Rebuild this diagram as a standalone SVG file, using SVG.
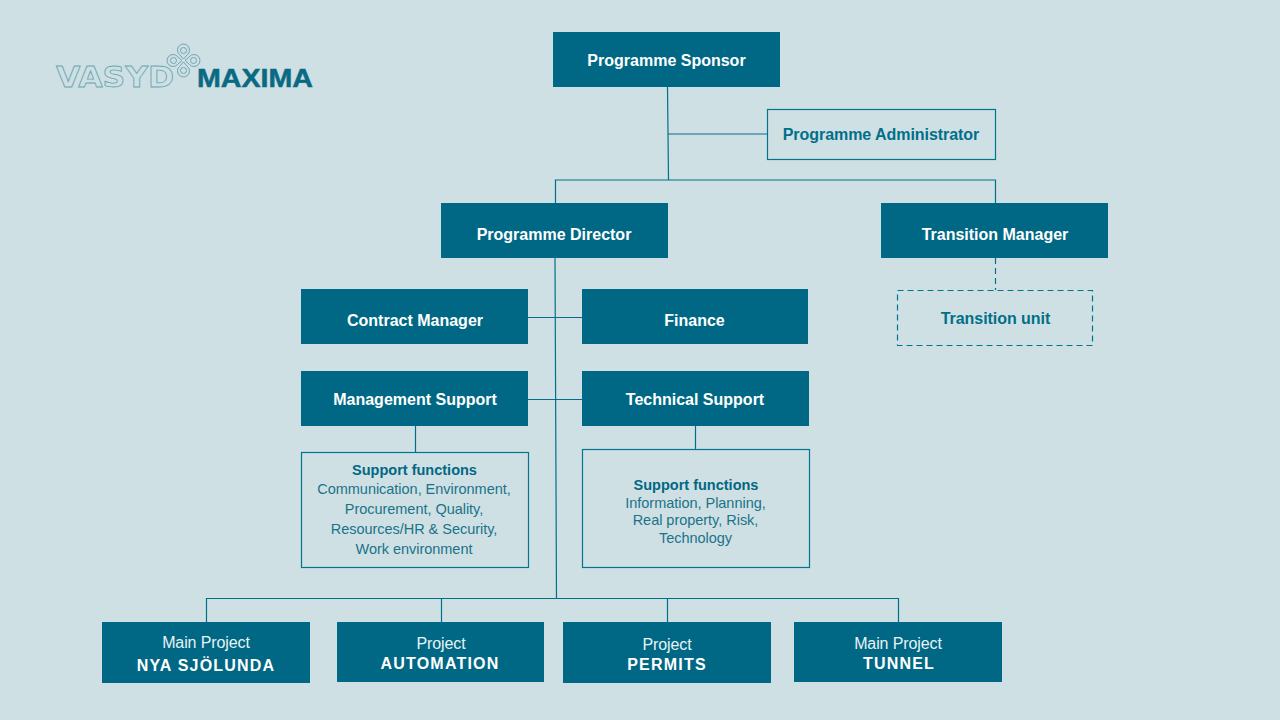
<svg xmlns="http://www.w3.org/2000/svg" width="1280" height="720" viewBox="0 0 1280 720">
<style>
text{font-family:"Liberation Sans",Arial,sans-serif;text-anchor:middle}
.solid{fill:#006884}
.outline{fill:none;stroke:#007590;stroke-width:1.2}
.t{font-size:16px;font-weight:700;fill:#fff}
.d{font-size:16px;font-weight:700;fill:#006f89;letter-spacing:-0.05px}
.sh{font-size:14.5px;font-weight:700;fill:#006884}
.s{font-size:14.5px;fill:#1a7389;letter-spacing:-0.03px}
.p{font-size:16px;fill:#e8f3f6;letter-spacing:-0.1px}
.b{font-size:16px;font-weight:700;fill:#fff;letter-spacing:1.2px}
.c{fill:none;stroke:#00708a;stroke-width:1.2}
.dash{stroke-dasharray:6 4}
.lg{fill:none;stroke:#6ba6b3;stroke-width:1}
</style>
<rect width="1280" height="720" fill="#cfe0e4"/>
<g id="logo">
<text x="115" y="87" font-size="27.500" font-weight="700" style="font-family:'DejaVu Sans',sans-serif" textLength="118" lengthAdjust="spacingAndGlyphs" fill="none" stroke="#6ba6b3" stroke-width="0.8">VASYD</text>
<g class="lg">
<path d="M183.500 59 L179.500 54.500 A6 6 0 1 1 187.500 54.500 Z"/>
<path d="M183.500 62 L179.500 66.500 A6 6 0 1 0 187.500 66.500 Z"/>
<path d="M182 60.500 L177.500 56.500 A6 6 0 1 0 177.500 64.500 Z"/>
<path d="M185 60.500 L189.500 56.500 A6 6 0 1 1 189.500 64.500 Z"/>
<circle cx="183.500" cy="50.500" r="3"/><circle cx="183.500" cy="70.500" r="3"/><circle cx="173.500" cy="60.500" r="3"/><circle cx="193.500" cy="60.500" r="3"/>
</g>
<text x="255" y="87" font-size="26" font-weight="700" fill="#0b6a83" stroke="#0b6a83" stroke-width="0.5" textLength="116" lengthAdjust="spacingAndGlyphs">MAXIMA</text>
</g>
<g id="connectors">
<path class="c" d="M667.500 87 L668.500 180 M668 134 H767 M555.500 203 V180 H995.500 V203"/>
<path class="c dash" d="M995.500 258 V290"/>
<path class="c" d="M555 258 L556.500 599 M528 317.500 H582 M528 399.500 H582 M415.500 426 V452 M695.500 426 V449"/>
<path class="c" d="M206.500 622 V598.500 H898.500 V622 M441.500 598.500 V622 M667.500 598.500 V622"/>
</g>
<g id="programme-sponsor"><rect class="solid" x="553" y="32" width="227" height="55"/><text class="t" x="666.500" y="66">Programme Sponsor</text></g>
<g id="programme-administrator"><rect class="outline" x="767.500" y="109.500" width="228" height="50"/><text class="d" x="881" y="140">Programme Administrator</text></g>
<g id="programme-director"><rect class="solid" x="441" y="203" width="227" height="55"/><text class="t" x="554" y="240">Programme Director</text></g>
<g id="transition-manager"><rect class="solid" x="881" y="203" width="227" height="55"/><text class="t" x="995" y="240">Transition Manager</text></g>
<g id="transition-unit"><rect class="outline dash" x="897.500" y="290.500" width="195" height="55"/><text class="d" x="995.500" y="324">Transition unit</text></g>
<g id="contract-manager"><rect class="solid" x="301" y="289" width="227" height="55"/><text class="t" x="415" y="326">Contract Manager</text></g>
<g id="finance"><rect class="solid" x="582" y="289" width="226" height="55"/><text class="t" x="694.500" y="326">Finance</text></g>
<g id="management-support"><rect class="solid" x="301" y="371" width="227" height="55"/><text class="t" x="415" y="405">Management Support</text></g>
<g id="technical-support"><rect class="solid" x="582" y="371" width="227" height="55"/><text class="t" x="695" y="405">Technical Support</text></g>
<g id="support-functions-management"><rect class="outline" x="301.500" y="452.500" width="227" height="115"/>
<text class="sh" x="414.500" y="475">Support functions</text>
<text class="s" x="414" y="494">Communication, Environment,</text>
<text class="s" x="414" y="514">Procurement, Quality,</text>
<text class="s" x="414" y="534">Resources/HR &amp; Security,</text>
<text class="s" x="414" y="554">Work environment</text></g>
<g id="support-functions-technical"><rect class="outline" x="582.500" y="449.500" width="227" height="118"/>
<text class="sh" x="696" y="490">Support functions</text>
<text class="s" x="695.500" y="508">Information, Planning,</text>
<text class="s" x="695.500" y="525">Real property, Risk,</text>
<text class="s" x="695.500" y="543">Technology</text></g>
<g id="nya-sjolunda"><rect class="solid" x="102" y="622" width="208" height="61"/><text class="p" x="206" y="648">Main Project</text><text class="b" x="206" y="671">NYA SJÖLUNDA</text></g>
<g id="automation"><rect class="solid" x="337" y="622" width="207" height="60"/><text class="p" x="441" y="649">Project</text><text class="b" x="440" y="669">AUTOMATION</text></g>
<g id="permits"><rect class="solid" x="563" y="622" width="208" height="61"/><text class="p" x="667" y="650">Project</text><text class="b" x="667" y="670">PERMITS</text></g>
<g id="tunnel"><rect class="solid" x="794" y="622" width="208" height="60"/><text class="p" x="898" y="649">Main Project</text><text class="b" x="899" y="669">TUNNEL</text></g>
</svg>
